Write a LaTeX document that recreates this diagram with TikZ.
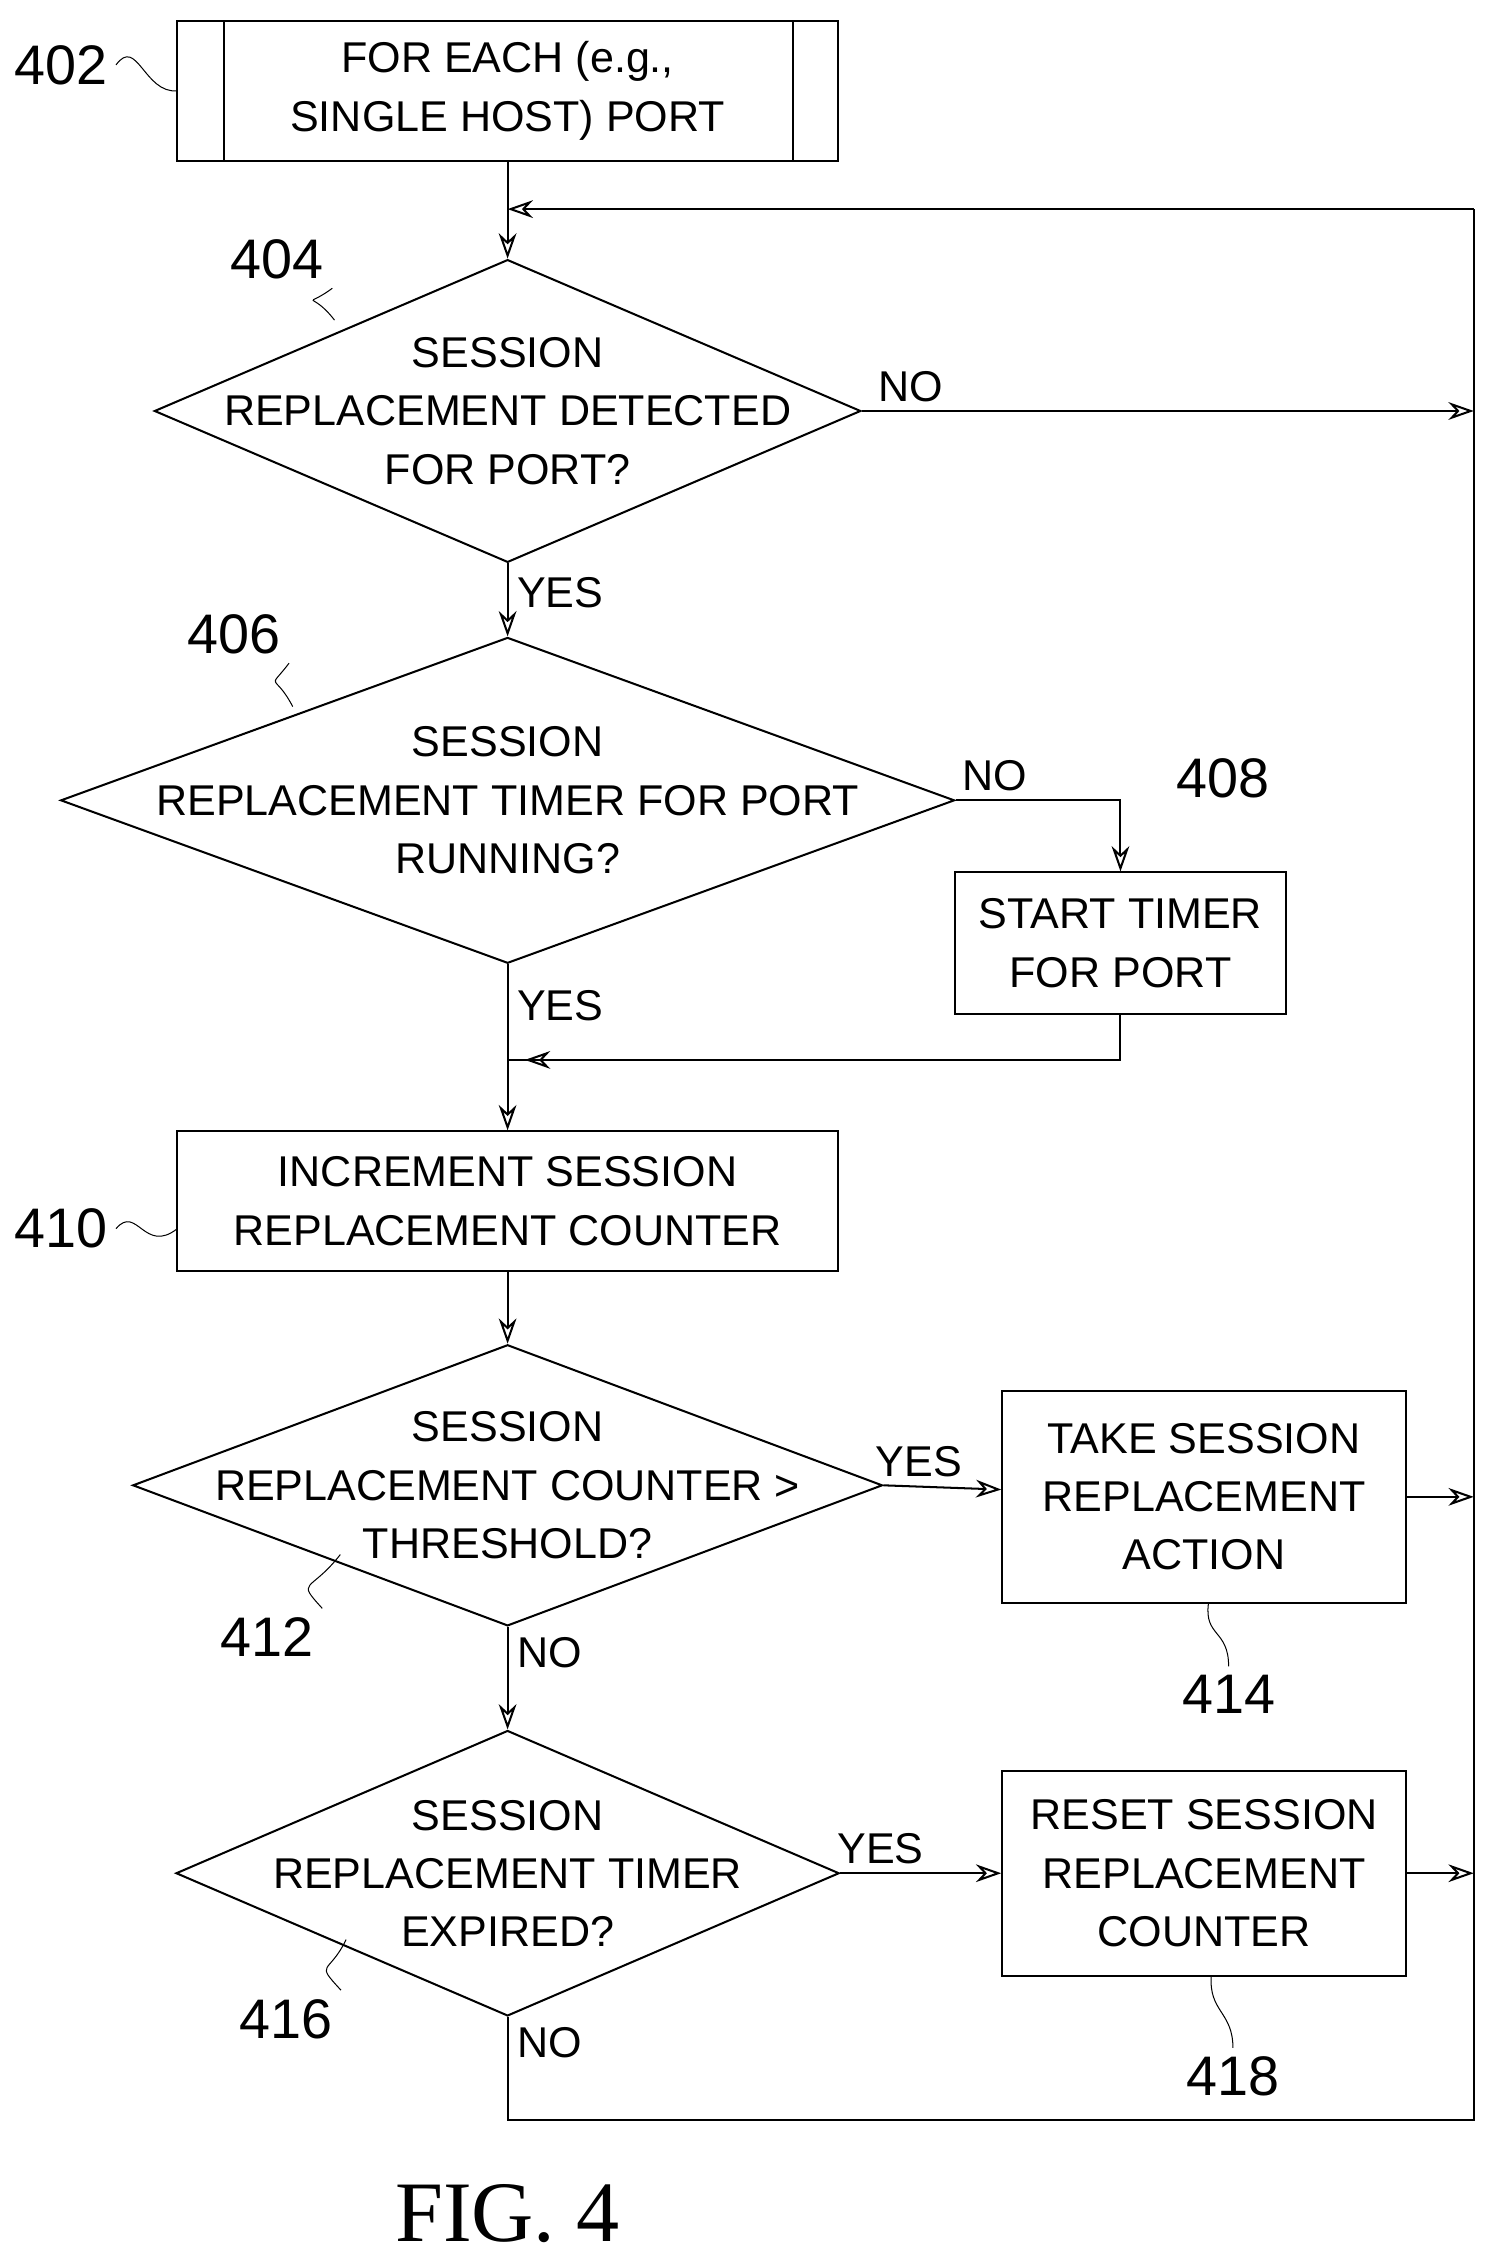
\documentclass[tikz,border=0pt]{standalone}
\usepackage{fontspec}
\setmainfont{Liberation Sans}
\usetikzlibrary{shapes.geometric,arrows.meta,calc}

\begin{document}
\begin{tikzpicture}[x=0.02cm, y=-0.02cm, font=\fontsize{17}{23}\selectfont,
  block/.style={rectangle, draw, thick, inner sep=0pt, align=center},
  decision/.style={diamond, draw, thick, inner sep=0pt},
  txt/.style={align=center},
  flow/.style={thick, -{Stealth[length=10pt, width=7pt, open]}},
  lead/.style={thin},
  ref/.style={font=\fontsize{22}{24}\selectfont}]
  \useasboundingbox (0,0) rectangle (1040,1570);

  % boxes and decisions
  \node[block, minimum width=9.18cm, minimum height=1.94cm] (start) at (352,63) {FOR EACH (e.g.,\\SINGLE HOST) PORT};
  \draw[thick] (155,15) -- (155,112) (550,15) -- (550,112);
  \node[decision, minimum width=9.8cm, minimum height=4.2cm] (detect) at (352,285) {};
  \node[txt] (detectT) at (352,285) {SESSION\\REPLACEMENT DETECTED\\FOR PORT?};
  \node[decision, minimum width=12.4cm, minimum height=4.52cm] (running) at (352,555) {};
  \node[txt] (runningT) at (352,555) {SESSION\\REPLACEMENT TIMER FOR PORT\\RUNNING?};
  \node[block, minimum width=4.6cm, minimum height=1.96cm] (starttimer) at (777,654) {START TIMER\\FOR PORT};
  \node[block, minimum width=9.18cm, minimum height=1.94cm] (incr) at (352,833) {INCREMENT SESSION\\REPLACEMENT COUNTER};
  \node[decision, minimum width=10.4cm, minimum height=3.9cm] (thresh) at (352,1030) {};
  \node[txt] (threshT) at (352,1030) {SESSION\\REPLACEMENT COUNTER >\\THRESHOLD?};
  \node[block, minimum width=5.6cm, minimum height=2.94cm] (action) at (835,1038) {TAKE SESSION\\REPLACEMENT\\ACTION};
  \node[decision, minimum width=9.2cm, minimum height=3.96cm] (expired) at (352,1299) {};
  \node[txt] (expiredT) at (352,1299) {SESSION\\REPLACEMENT TIMER\\EXPIRED?};
  \node[block, minimum width=5.6cm, minimum height=2.84cm] (reset) at (835,1299) {RESET SESSION\\REPLACEMENT\\COUNTER};

  \coordinate (railtop) at (1022,145);
  \coordinate (railbot) at (1022,1470);
  \coordinate (join) at (352,735);

  % connectors
  \draw[flow] (start) -- (detect);
  \draw[flow] (detect) -- node[right, pos=0.4] {YES} (running);
  \draw[flow] (detect.east) -- node[above, pos=0.08] {NO} (detect.east -| railtop);
  \draw[flow] (running.east) -| node[above, pos=0.12] {NO} (starttimer);
  \draw[thick] (starttimer) |- (join);
  \draw[flow] (starttimer.south) |- ($(join)+(12,0)$);
  \draw[flow] (running) -- node[right, pos=0.25] {YES} (incr);
  \draw[flow] (incr) -- (thresh);
  \draw[flow] (thresh.east) -- node[above, pos=0.3] {YES} (action);
  \draw[flow] (action) -- (action -| railtop);
  \draw[flow] (thresh) -- node[right, pos=0.25] {NO} (expired);
  \draw[flow] (expired.east) -- node[above, pos=0.25] {YES} (reset);
  \draw[flow] (reset) -- (reset -| railtop);
  \draw[thick] (expired.south) -- node[right, pos=0.25] {NO} (expired.south |- railbot) -- (railbot) -- (railtop);
  \draw[flow] (railtop) -- (start.south |- railtop);

  % reference numerals
  \node[ref] (n402) at (42,45) {402};
  \draw[lead] (n402.east) .. controls (95,25) and (100,65) .. (123,63);
  \node[ref] (n404) at (192,180) {404};
  \draw[lead] (n404.south east) .. controls (210,215) and (215,200) .. (232,222);
  \node[ref] (n406) at (162,440) {406};
  \draw[lead] (n406.south east) .. controls (185,480) and (190,465) .. (203,490);
  \node[ref] (n408) at (848,540) {408};
  \node[ref] (n410) at (42,852) {410};
  \draw[lead] (n410.east) .. controls (95,835) and (100,870) .. (123,852);
  \node[ref] (n412) at (185,1135) {412};
  \draw[lead] (n412.north east) .. controls (205,1095) and (215,1105) .. (236,1078);
  \node[ref] (n414) at (852,1175) {414};
  \draw[lead] (n414.north) .. controls (852,1130) and (835,1135) .. (838,1112);
  \node[ref] (n416) at (198,1400) {416};
  \draw[lead] (n416.north east) .. controls (218,1360) and (228,1370) .. (240,1345);
  \node[ref] (n418) at (855,1440) {418};
  \draw[lead] (n418.north) .. controls (855,1395) and (838,1395) .. (840,1370);

  \node[font=\fontsize{34}{36}\selectfont\rmfamily] (fig) at (352,1535) {\fontspec{Liberation Serif}FIG. 4};
\end{tikzpicture}
\end{document}
